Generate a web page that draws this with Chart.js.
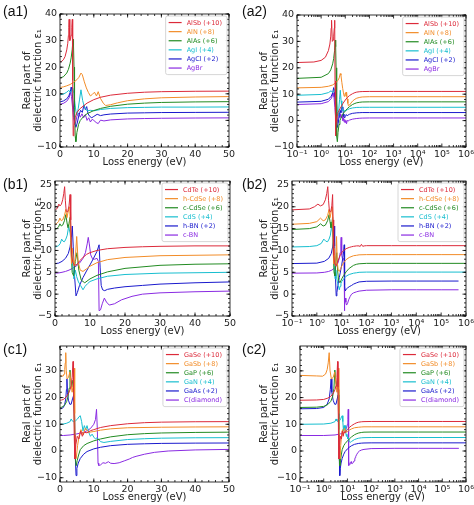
<!DOCTYPE html>
<html>
<head>
<meta charset="utf-8">
<script src="https://cdn.jsdelivr.net/npm/chart.js@4.4.1/dist/chart.umd.min.js"></script>
<style>
  html, body { margin: 0; padding: 0; background: #fff; }
  #fig { position: relative; width: 474px; height: 505px; overflow: hidden; }
  #fig canvas { position: absolute; }
  .tag { position: absolute; font: 14px "Liberation Sans", Arial, sans-serif; color: #111; line-height: 16px; }
</style>
</head>
<body>
<div id="fig">
  <canvas id="a1" width="237" height="175" style="left:0;top:0"></canvas>
  <canvas id="a2" width="237" height="175" style="left:237px;top:0"></canvas>
  <canvas id="b1" width="237" height="175" style="left:0;top:165px"></canvas>
  <canvas id="b2" width="237" height="175" style="left:237px;top:165px"></canvas>
  <canvas id="c1" width="237" height="175" style="left:0;top:330px"></canvas>
  <canvas id="c2" width="237" height="175" style="left:237px;top:330px"></canvas>
  <div class="tag" style="left:3px;top:3px">(a1)</div>
  <div class="tag" style="left:242px;top:3px">(a2)</div>
  <div class="tag" style="left:3px;top:176px">(b1)</div>
  <div class="tag" style="left:242px;top:176px">(b2)</div>
  <div class="tag" style="left:3px;top:341px">(c1)</div>
  <div class="tag" style="left:242px;top:341px">(c2)</div>
</div>
<script>
// colours shared by every panel (one per curve, top to bottom in the legend)
const lineColors = ['#dc2a3a', '#f28c28', '#228b22', '#17becf', '#1a1acd', '#8a2be2'];

// ---- row a : Al / Ag compounds ----
const rowALabels = ['AlSb (+10)', 'AlN (+8)', 'AlAs (+6)', 'AgI (+4)', 'AgCl (+2)', 'AgBr'];
const alsbE   = [0.1, 0.5, 1, 1.5, 2, 2.3, 2.5, 2.6, 2.7, 2.9, 3.1, 3.3, 3.5, 3.65, 3.75, 3.9, 4.1, 4.5, 5, 6, 7, 8, 10, 12, 15, 20, 25, 30, 40, 50, 100, 1e3, 1e4, 1e5, 1e6];
const alsbEps = [22, 22.2, 22.8, 24, 26.5, 29, 32, 35, 38, 30, 30.5, 32, 35, 38, 15, -5.8, -2, 1, 3, 4.5, 5.5, 6.5, 7.8, 8.7, 9.5, 10.2, 10.6, 10.8, 10.95, 11, 11.05, 11.05, 11.05, 11.05, 11.05];
const alnE    = [0.1, 1, 2, 3, 4, 5, 5.6, 6.2, 6.6, 7.2, 7.8, 8.4, 9, 9.6, 10.2, 10.8, 11.3, 12, 12.8, 13.5, 15, 17, 20, 25, 30, 40, 50, 100, 1e3, 1e4, 1e5, 1e6];
const alnEps  = [12.4, 12.6, 13, 13.5, 14.3, 15.3, 16.2, 17.8, 17.2, 14.5, 12.2, 10.5, 9.2, 9.8, 10.6, 9.2, 10.8, 8.2, 6.5, 5.6, 5.9, 6.6, 7.4, 8.1, 8.5, 8.8, 8.95, 9.05, 9.05, 9.05, 9.05, 9.05];
const alasE   = [0.1, 1, 2, 2.5, 3, 3.3, 3.6, 3.85, 4.0, 4.15, 4.3, 4.5, 4.7, 5, 5.5, 6, 7, 8, 10, 12, 15, 20, 25, 30, 40, 50, 100, 1e3, 1e4, 1e5, 1e6];
const alasEps = [16, 16.4, 17.8, 19.2, 21.5, 23.5, 26.5, 30.5, 28, 20, 5, -6, -8, -4.5, -1.5, 0, 1.5, 2.5, 3.7, 4.5, 5.3, 6.1, 6.5, 6.75, 6.95, 7.05, 7.1, 7.1, 7.1, 7.1, 7.1];
const agiE    = [0.1, 1, 2, 2.6, 3.0, 3.4, 3.8, 4.1, 4.4, 4.7, 5.0, 5.4, 5.8, 6.2, 6.7, 7.2, 8, 9, 10, 12, 15, 20, 25, 30, 40, 50, 100, 1e3, 1e4, 1e5, 1e6];
const agiEps  = [9.6, 9.9, 10.6, 11.3, 10.6, 11.2, 12.1, 10, 6.5, 3.5, 2, 4.5, 8, 11.5, 7.5, 5, 3.6, 3.8, 3.6, 4.1, 4.5, 4.8, 4.9, 5, 5, 5.05, 5.05, 5.05, 5.05, 5.05, 5.05];
const agclE   = [0.1, 1, 2, 2.6, 3.0, 3.3, 3.5, 3.8, 4.1, 4.4, 4.7, 5.1, 5.6, 6.1, 6.6, 7.1, 7.5, 7.9, 8.3, 8.8, 9.4, 10, 11, 12, 13, 15, 20, 25, 30, 40, 50, 100, 1e3, 1e4, 1e5, 1e6];
const agclEps = [7, 7.3, 8.1, 9.2, 10.5, 12.5, 11, 8, 3, -1, -2.6, -1, 2, 3.8, 3, 5.8, 4, 5.2, 2.5, 1.5, 1, 1.5, 2.3, 1.8, 2.1, 2.4, 2.75, 2.85, 2.95, 3, 3.05, 3.05, 3.05, 3.05, 3.05, 3.05];
const agbrE   = [0.1, 1, 2, 2.7, 3.1, 3.4, 3.7, 4.0, 4.3, 4.6, 5.0, 5.5, 6, 6.5, 7, 7.5, 8, 8.5, 9, 9.5, 10, 10.7, 11.3, 12, 13, 15, 20, 25, 30, 40, 50, 100, 1e3, 1e4, 1e5, 1e6];
const agbrEps = [6.1, 6.4, 7.2, 8.5, 10.5, 9, 5, 1, -1.5, -1, 1.5, 2.8, 1.2, 2.5, 1, 2.2, 0, 1, -0.6, 0.4, 0, -0.8, -1.2, 0.1, -0.2, 0.2, 0.55, 0.7, 0.8, 0.9, 0.95, 1, 1, 1, 1, 1];

// ---- row b : Cd compounds and BN ----
const rowBLabels = ['CdTe (+10)', 'h-CdSe (+8)', 'c-CdSe (+6)', 'CdS (+4)', 'h-BN (+2)', 'c-BN'];
const cdteE    = [0.1, 0.5, 0.8, 1.1, 1.4, 1.8, 2.2, 2.5, 2.75, 2.95, 3.2, 3.6, 4.0, 4.3, 4.5, 4.75, 5.1, 5.6, 6.3, 7, 8, 9, 10, 12, 15, 20, 25, 30, 40, 50, 55, 62, 70, 80, 100, 1e3, 1e4, 1e5, 1e6];
const cdteEps  = [19.3, 19.5, 20, 20.6, 20.2, 20.5, 21.6, 23, 24.6, 21.5, 19, 18.8, 20.2, 22.8, 17, 9, 7.2, 6.6, 6.8, 7.6, 8.4, 9.1, 9.5, 10, 10.4, 10.7, 10.85, 10.95, 11.05, 11.05, 10.9, 11.4, 10.95, 11.05, 11.1, 11.1, 11.1, 11.1, 11.1];
const hcdseE   = [0.1, 0.5, 1, 1.4, 1.8, 2.2, 2.7, 3.1, 3.4, 3.8, 4.2, 4.5, 4.7, 5.0, 5.4, 5.8, 6.2, 6.6, 7.2, 8, 9, 10, 12, 15, 20, 30, 40, 50, 100, 1e3, 1e4, 1e5, 1e6];
const hcdseEps = [16, 16.2, 16.6, 17.4, 16.8, 17, 18, 19.4, 17.5, 19, 20, 12, 7, 10.5, 6.5, 8, 13.2, 7.5, 5.5, 5.2, 5.8, 6.4, 7.2, 7.9, 8.4, 8.8, 8.9, 9, 9.05, 9.05, 9.05, 9.05, 9.05];
const ccdseE   = [0.1, 0.5, 1, 1.4, 1.8, 2.2, 2.7, 3.1, 3.4, 3.7, 4.0, 4.3, 4.6, 4.9, 5.3, 5.8, 6.3, 6.8, 7.5, 8.5, 10, 12, 15, 20, 30, 40, 50, 100, 1e3, 1e4, 1e5, 1e6];
const ccdseEps = [14.8, 15, 15.4, 16.1, 15.6, 15.8, 16.8, 18.2, 16.5, 15.2, 16.2, 17.6, 10, 5, 4.2, 7.5, 9.5, 5.5, 3.2, 2.6, 3.5, 4.3, 5.1, 5.9, 6.6, 6.85, 6.95, 7.05, 7.05, 7.05, 7.05, 7.05];
const cdsE     = [0.1, 0.5, 1, 1.5, 1.9, 2.3, 2.7, 3.1, 3.5, 3.9, 4.3, 4.7, 5.0, 5.4, 5.8, 6.2, 6.7, 7.3, 8, 8.6, 9.3, 10, 12, 15, 20, 30, 40, 50, 100, 1e3, 1e4, 1e5, 1e6];
const cdsEps   = [10.8, 10.9, 11.1, 11.6, 12.6, 12.1, 12, 12.6, 13.5, 15.5, 14, 11.5, 7, 3.5, 5.5, 4, 2.8, 2, 1, 1.8, 2.4, 2.9, 3.5, 4.1, 4.5, 4.8, 4.9, 5, 5.05, 5.05, 5.05, 5.05, 5.05];
const hbnE     = [0.1, 1, 2, 3, 3.8, 4.3, 4.7, 4.95, 5.2, 5.6, 6.0, 6.4, 7, 8, 9, 10, 11, 12, 12.6, 12.9, 13.2, 13.6, 14.2, 15, 17, 20, 25, 30, 40, 50, 100, 1e3, 1e4, 1e5, 5e5];
const hbnEps   = [7, 7.1, 7.5, 8.2, 9.3, 10.8, 13, 15.6, 11, 4, -0.4, 0.4, 2, 3.8, 5.3, 6.7, 8.2, 9.8, 11.3, 6, 2, 1, 0.8, 1.1, 1.4, 1.7, 2, 2.3, 2.6, 2.8, 2.95, 3, 3, 3, 3];
const cbnE     = [0.1, 1, 2, 3, 4, 5, 6, 7, 8, 8.7, 9.2, 9.5, 9.8, 10.2, 10.7, 11.3, 12, 12.4, 12.6, 13, 13.5, 14.1, 14.7, 15.5, 17, 19, 22, 25, 30, 40, 50, 100, 1e3, 1e4, 1e5, 5e5];
const cbnEps   = [4.8, 4.85, 5, 5.2, 5.5, 5.9, 6.4, 7.1, 8.2, 9.5, 11.5, 13, 11.5, 9, 8.1, 8, 8.2, 7.5, -3.8, -3.6, -2.2, -0.9, -1.8, -2.5, -2.2, -1.3, -0.5, 0, 0.3, 0.55, 0.7, 0.9, 1, 1, 1, 1];

// ---- row c : Ga compounds and diamond ----
const rowCLabels = ['GaSe (+10)', 'GaSb (+8)', 'GaP (+6)', 'GaN (+4)', 'GaAs (+2)', 'C(diamond)'];
const gaseE    = [0.1, 0.5, 1, 1.5, 2, 2.5, 3, 3.3, 3.6, 3.85, 4.0, 4.2, 4.4, 4.7, 5.1, 5.6, 6.1, 6.6, 7.2, 8, 9, 10, 12, 15, 20, 25, 30, 40, 50, 100, 1e3, 1e4, 1e5, 1e6];
const gaseEps  = [19, 19.1, 19.3, 19.8, 20.5, 21.5, 23, 24.5, 27.5, 33.5, 24, 6, -3, 2.5, 5.5, 4.5, 7.5, 5.5, 7, 6.8, 7.6, 8, 8.8, 9.5, 10.2, 10.6, 10.8, 10.95, 11, 11.05, 11.05, 11.05, 11.05, 11.05];
const gasbE    = [0.1, 0.5, 0.9, 1.2, 1.4, 1.55, 1.7, 1.85, 2.1, 2.5, 2.9, 3.2, 3.6, 3.9, 4.15, 4.35, 4.55, 4.8, 5.2, 5.7, 6.2, 6.8, 7.5, 8.5, 10, 12, 15, 20, 30, 40, 50, 100, 1e3, 1e4, 1e5, 1e6];
const gasbEps  = [28.3, 28.1, 28, 28.8, 30.5, 33, 36.8, 30, 27, 27.5, 29.5, 26, 22, 25, 31, 14, 0, -2.8, 2, 6, 8, 6, 8.5, 7, 7.3, 7.8, 8.3, 8.7, 8.9, 9, 9.05, 9.05, 9.05, 9.05, 9.05, 9.05];
const gapE     = [0.1, 0.5, 1, 1.5, 2, 2.4, 2.7, 2.95, 3.2, 3.5, 3.8, 4.05, 4.3, 4.55, 4.8, 5.1, 5.5, 6, 7, 8, 10, 12, 15, 20, 25, 30, 40, 50, 100, 1e3, 1e4, 1e5, 1e6];
const gapEps   = [16.3, 16.4, 16.7, 17.4, 18.6, 20.5, 23.5, 30.3, 26.5, 24, 26.5, 23, 8, -3, -5.5, -3.5, -1.5, 0.5, 2, 2.8, 3.8, 4.5, 5.3, 6.1, 6.5, 6.75, 6.95, 7.05, 7.1, 7.1, 7.1, 7.1, 7.1];
const ganE     = [0.1, 1, 2, 3, 3.3, 3.6, 4, 4.6, 5.2, 5.6, 6.0, 6.4, 6.8, 7.2, 7.6, 8.0, 8.5, 9.0, 9.5, 10, 10.5, 11, 12, 13, 15, 20, 25, 30, 40, 50, 100, 1e3, 1e4, 1e5, 1e6];
const ganEps   = [10, 10.1, 10.4, 11, 12, 11.3, 11, 11.3, 12, 12.8, 13.2, 11, 7.5, 9.5, 8, 9.5, 7, 5.5, 6.3, 5.2, 4.5, 5, 3.5, 3.2, 3.6, 4.3, 4.6, 4.8, 4.95, 5, 5.05, 5.05, 5.05, 5.05, 5.05];
const gaasE    = [0.1, 0.5, 1, 1.4, 1.7, 1.9, 2.05, 2.2, 2.5, 2.9, 3.3, 3.7, 4.1, 4.35, 4.55, 4.75, 5.0, 5.4, 6, 7, 8, 10, 12, 15, 20, 25, 30, 40, 50, 100, 1e3, 1e4, 1e5, 1e6];
const gaasEps  = [15.8, 15.9, 16.3, 17.5, 19.5, 23, 27, 22, 19, 17.5, 17.5, 19.5, 21, 12, -3, -9.2, -6.5, -4.5, -2.8, -1.2, -0.2, 0.8, 1.4, 2, 2.5, 2.7, 2.85, 2.95, 3, 3.05, 3.05, 3.05, 3.05, 3.05];
const diamE    = [0.1, 1, 3, 5, 7, 8, 9, 10, 10.5, 10.8, 11.05, 11.25, 11.45, 12, 12.7, 13.5, 14.3, 15, 16, 17.5, 19, 20.5, 21.5, 22.5, 25, 28, 32, 40, 50, 100, 1e3, 1e4, 1e5, 5e5];
const diamEps  = [5.8, 5.8, 6, 6.4, 7, 7.6, 8.4, 10, 11.8, 15.6, 8, -4.5, -5.4, -5.2, -4.4, -4.6, -4, -4.6, -4.7, -4.4, -3.7, -3, -2.4, -2, -1.2, -0.5, 0, 0.4, 0.6, 0.9, 1, 1, 1, 1];

// ---- axis ticks ----
const linTicks = [0, 10, 20, 30, 40, 50];
const logTicks = [0.1, 1, 10, 100, 1e3, 1e4, 1e5, 1e6];
const logTickLabels = ['10⁻¹', '10⁰', '10¹', '10²', '10³', '10⁴', '10⁵', '10⁶'];
const yTicksA = [-10, 0, 10, 20, 30, 40];
const yTicksB = [-5, 0, 5, 10, 15, 20, 25];
const yTicksC = [-10, 0, 10, 20, 30];

const rowA = { labels: rowALabels, E: [alsbE, alnE, alasE, agiE, agclE, agbrE], eps: [alsbEps, alnEps, alasEps, agiEps, agclEps, agbrEps] };
const rowB = { labels: rowBLabels, E: [cdteE, hcdseE, ccdseE, cdsE, hbnE, cbnE], eps: [cdteEps, hcdseEps, ccdseEps, cdsEps, hbnEps, cbnEps] };
const rowC = { labels: rowCLabels, E: [gaseE, gasbE, gapE, ganE, gaasE, diamE], eps: [gaseEps, gasbEps, gapEps, ganEps, gaasEps, diamEps] };

Chart.defaults.font.family = '"DejaVu Sans", sans-serif';
const txtColor = '#222';
const minus = v => String(v).replace('-', '\u2212');

// frame, inward ticks on all four sides and the legend box
const framePlugin = {
    id: 'frame',
    afterDraw(chart, args, opts) {
        const { ctx, chartArea: a, scales: { x, y } } = chart;
        ctx.save();
        ctx.strokeStyle = '#000';
        ctx.lineWidth = 0.8;

        const tickX = (v, len) => {
            const p = x.getPixelForValue(v);
            if (p < a.left - 0.5 || p > a.right + 0.5) return;
            ctx.moveTo(p, a.bottom); ctx.lineTo(p, a.bottom - len);
            ctx.moveTo(p, a.top); ctx.lineTo(p, a.top + len);
        };
        const tickY = (v, len) => {
            const p = y.getPixelForValue(v);
            if (p < a.top - 0.5 || p > a.bottom + 0.5) return;
            ctx.moveTo(a.left, p); ctx.lineTo(a.left + len, p);
            ctx.moveTo(a.right, p); ctx.lineTo(a.right - len, p);
        };

        ctx.beginPath();
        x.ticks.forEach(t => tickX(t.value, 3.5));
        y.ticks.forEach(t => tickY(t.value, 3.5));
        ctx.stroke();

        // minor ticks
        ctx.beginPath();
        if (opts.log) {
            for (let d = -1; d < 6; d++) for (let k = 2; k < 10; k++) tickX(k * Math.pow(10, d), 2);
        } else {
            for (let v = x.min; v <= x.max; v += 2) tickX(v, 2);
        }
        for (let v = Math.ceil(y.min / opts.minorY) * opts.minorY; v <= y.max; v += opts.minorY) tickY(v, 2);
        ctx.stroke();

        ctx.strokeRect(a.left, a.top, a.right - a.left, a.bottom - a.top);

        // legend
        const sets = chart.data.datasets;
        ctx.font = '6.5px "DejaVu Sans", sans-serif';
        const rowH = 9.1;
        const tw = Math.max(...sets.map(d => ctx.measureText(d.label).width));
        const w = 21 + tw + 5, h = sets.length * rowH + 4;
        const bx = a.right - 2 - w, by = a.top + 2;
        ctx.beginPath();
        ctx.roundRect(bx, by, w, h, 2);
        ctx.fillStyle = 'rgba(255,255,255,0.85)';
        ctx.fill();
        ctx.strokeStyle = '#cccccc';
        ctx.lineWidth = 0.8;
        ctx.stroke();
        ctx.textBaseline = 'middle';
        sets.forEach((d, i) => {
            const cy = by + 2 + rowH * (i + 0.5);
            ctx.beginPath();
            ctx.strokeStyle = d.borderColor;
            ctx.lineWidth = 1.2;
            ctx.moveTo(bx + 3, cy); ctx.lineTo(bx + 16, cy);
            ctx.stroke();
            ctx.fillStyle = d.borderColor;
            ctx.fillText(d.label, bx + 21, cy + 0.3);
        });
        ctx.restore();
    }
};

function makePanel(p) {
    const datasets = p.row.labels.map((label, i) => ({
        label: label,
        data: p.row.E[i].map((e, j) => ({ x: e, y: p.row.eps[i][j] })),
        borderColor: lineColors[i],
        borderWidth: 1,
        pointRadius: 0,
        tension: 0,
        fill: false
    }));

    const xScale = p.log ? {
        type: 'logarithmic', min: 0.1, max: 1e6,
        afterBuildTicks: s => { s.ticks = logTicks.map(v => ({ value: v })); },
        ticks: { padding: 2, color: txtColor, font: { size: 9.5 }, maxRotation: 0, autoSkip: false,
                 callback: v => logTickLabels[logTicks.indexOf(v)] }
    } : {
        type: 'linear', min: 0, max: 50,
        afterBuildTicks: s => { s.ticks = linTicks.map(v => ({ value: v })); },
        ticks: { padding: 2, color: txtColor, font: { size: 9.5 }, maxRotation: 0, autoSkip: false,
                 callback: v => minus(v) }
    };
    Object.assign(xScale, {
        grid: { display: false, drawTicks: false },
        border: { display: false },
        title: { display: true, text: 'Loss energy (eV)', color: txtColor,
                 font: { size: 10, lineHeight: 1.1 }, padding: { top: 0, bottom: 1.5 } },
        afterFit: s => { s.height = 22; s.paddingLeft = 0; s.paddingRight = 0; }
    });

    new Chart(document.getElementById(p.id), {
        type: 'line',
        data: { datasets: datasets },
        options: {
            responsive: false,
            animation: false,
            events: [],
            layout: { padding: p.pad },
            plugins: {
                legend: { display: false },
                tooltip: { enabled: false },
                frame: { log: p.log, minorY: p.minorY }
            },
            scales: {
                x: xScale,
                y: {
                    type: 'linear', min: p.yMin, max: p.yMax,
                    afterBuildTicks: s => { s.ticks = p.yTicks.map(v => ({ value: v })); },
                    ticks: { padding: 3, color: txtColor, font: { size: 9.5 }, callback: v => minus(v) },
                    grid: { display: false, drawTicks: false },
                    border: { display: false },
                    title: { display: true, text: ['Real part of', 'dielectric function \u03b5\u2081'], color: txtColor,
                             font: { size: 10, lineHeight: 1.1 }, padding: { top: 22, bottom: 0 } },
                    afterFit: s => { s.width = p.yW; s.paddingTop = 0; s.paddingBottom = 0; }
                }
            }
        },
        plugins: [framePlugin]
    });
}

[
    { id: 'a1', log: false, row: rowA, yMin: -10, yMax: 40, yTicks: yTicksA, minorY: 2, yW: 60, pad: { left: 0, right: 8, top: 14, bottom: 6 } },
    { id: 'a2', log: true,  row: rowA, yMin: -10, yMax: 40, yTicks: yTicksA, minorY: 2, yW: 60, pad: { left: 0, right: 8, top: 15, bottom: 6 } },
    { id: 'b1', log: false, row: rowB, yMin: -5, yMax: 25.9, yTicks: yTicksB, minorY: 1, yW: 55, pad: { left: 0, right: 7, top: 16, bottom: 2 } },
    { id: 'b2', log: true,  row: rowB, yMin: -5, yMax: 25.9, yTicks: yTicksB, minorY: 1, yW: 55, pad: { left: 0, right: 8, top: 16, bottom: 2 } },
    { id: 'c1', log: false, row: rowC, yMin: -11.6, yMax: 39.3, yTicks: yTicksC, minorY: 2, yW: 60, pad: { left: 0, right: 8, top: 16, bottom: 1 } },
    { id: 'c2', log: true,  row: rowC, yMin: -11.6, yMax: 39.3, yTicks: yTicksC, minorY: 2, yW: 63, pad: { left: 0, right: 8, top: 16, bottom: 1 } }
].forEach(makePanel);
</script>
</body>
</html>
